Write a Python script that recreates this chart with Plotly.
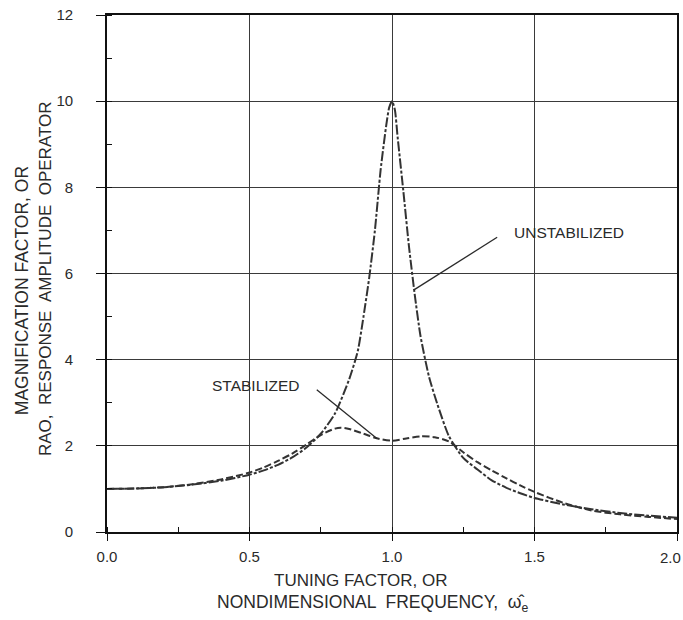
import plotly.graph_objects as go

# Tuning factor (x) and magnification factor readings
x_unstab = [0.0, 0.1, 0.2, 0.3, 0.4, 0.5, 0.55, 0.6, 0.65, 0.7, 0.75, 0.8, 0.85, 0.88, 0.9,
            0.92, 0.94, 0.96, 0.98, 0.99, 1.0, 1.01, 1.02, 1.04, 1.06, 1.08, 1.1, 1.13, 1.16,
            1.2, 1.25, 1.3, 1.35, 1.4, 1.45, 1.5, 1.6, 1.7, 1.8, 1.9, 2.0]
y_unstab = [1.0, 1.01, 1.04, 1.1, 1.19, 1.33, 1.43, 1.56, 1.73, 1.96, 2.28, 2.75, 3.55, 4.2, 5.0,
            5.9, 7.0, 8.4, 9.45, 9.85, 10.0, 9.8, 9.15, 7.9, 6.6, 5.5, 4.55, 3.6, 2.95,
            2.22, 1.72, 1.45, 1.2, 1.03, 0.9, 0.79, 0.64, 0.53, 0.44, 0.38, 0.33]

x_stab = [0.0, 0.1, 0.2, 0.3, 0.4, 0.5, 0.55, 0.6, 0.65, 0.7, 0.75, 0.8, 0.82, 0.85, 0.9,
          0.95, 1.0, 1.05, 1.1, 1.15, 1.2, 1.25, 1.3, 1.35, 1.4, 1.45, 1.5, 1.6, 1.7, 1.8,
          1.9, 2.0]
y_stab = [1.0, 1.01, 1.04, 1.11, 1.22, 1.38, 1.5, 1.65, 1.82, 2.03, 2.25, 2.4, 2.42, 2.39, 2.28,
          2.17, 2.12, 2.17, 2.22, 2.2, 2.1, 1.85, 1.62, 1.43, 1.25, 1.08, 0.93, 0.68, 0.5, 0.41,
          0.35, 0.3]

x_ticks = [0.0, 0.5, 1.0, 1.5, 2.0]
x_ticklabels = ["0.0", "0.5", "1.0", "1.5", ""]   # last label drawn as annotation to avoid clipping
last_x_label = "2.0"
y_ticks = [0, 2, 4, 6, 8, 10, 12]

INK = "#2a2a2a"
FONT = "Liberation Sans, Arial, sans-serif"

fig = go.Figure()
fig.add_trace(go.Scatter(x=x_unstab, y=y_unstab, mode="lines", name="UNSTABILIZED",
                         line=dict(color="#333333", width=2, dash="10px,2px,3px,2px", shape="spline",
                                   smoothing=0.6)))
fig.add_trace(go.Scatter(x=x_stab, y=y_stab, mode="lines", name="STABILIZED",
                         line=dict(color="#333333", width=2, dash="7px,3px", shape="spline",
                                   smoothing=0.8)))

# Leader lines for labels
fig.add_shape(type="line", x0=1.369, y0=6.84, x1=1.077, y1=5.62, xref="x", yref="y",
              line=dict(color=INK, width=1.3))
fig.add_shape(type="line", x0=0.736, y0=3.30, x1=0.947, y1=2.17, xref="x", yref="y",
              line=dict(color=INK, width=1.3))

fig.add_annotation(x=1.62, y=6.96, text="UNSTABILIZED", showarrow=False, xref="x", yref="y",
                   font=dict(family=FONT, size=15.5, color=INK))
fig.add_annotation(x=0.523, y=3.41, text="STABILIZED", showarrow=False, xref="x", yref="y",
                   font=dict(family=FONT, size=15.5, color=INK))

# Last x tick label
fig.add_annotation(xref="paper", yref="paper", x=1, y=0, xshift=6, yshift=-25,
                   text=last_x_label, showarrow=False, xanchor="right", yanchor="middle",
                   font=dict(family=FONT, size=15, color=INK))

# Axis titles
fig.add_annotation(xref="paper", yref="paper", x=-0.149, y=0.466, textangle=-90,
                   text="MAGNIFICATION FACTOR, OR",
                   showarrow=False, xanchor="center", yanchor="middle",
                   font=dict(family=FONT, size=17.5, color=INK))
fig.add_annotation(xref="paper", yref="paper", x=-0.109, y=0.491, textangle=-90,
                   text="RAO,  RESPONSE  AMPLITUDE  OPERATOR",
                   showarrow=False, xanchor="center", yanchor="middle",
                   font=dict(family=FONT, size=17, color=INK))
fig.add_annotation(xref="paper", yref="paper", x=0.444, y=0, yshift=-48,
                   text="TUNING FACTOR, OR", showarrow=False, xanchor="center", yanchor="middle",
                   font=dict(family=FONT, size=17, color=INK))
fig.add_annotation(xref="paper", yref="paper", x=0.465, y=0, yshift=-71,
                   text="NONDIMENSIONAL  FREQUENCY,  ω\u0302<sub>e</sub>", showarrow=False,
                   xanchor="center", yanchor="middle",
                   font=dict(family=FONT, size=17.5, color=INK))

fig.update_xaxes(range=[0, 2.0], tickvals=x_ticks, ticktext=x_ticklabels,
                 showgrid=True, gridcolor="#3a3a3a", gridwidth=1.2,
                 showline=True, linecolor="#111111", linewidth=1.6, mirror=True,
                 ticks="outside", ticklen=7, tickcolor="#111111", tickwidth=1.3,
                 ticklabelstandoff=3, zeroline=False,
                 automargin=False,
                 minor=dict(dtick=0.25, tick0=0, ticks="inside", ticklen=5, tickcolor="#111111",
                            showgrid=False),
                 tickfont=dict(family=FONT, size=15, color=INK))
fig.update_yaxes(range=[0, 12], tickvals=y_ticks,
                 showgrid=True, gridcolor="#3a3a3a", gridwidth=1.2,
                 showline=True, linecolor="#111111", linewidth=1.6, mirror=True,
                 ticks="outside", ticklen=9, tickcolor="#111111", tickwidth=1.3,
                 ticklabelstandoff=20, ticklabeloverflow="allow", zeroline=False,
                 automargin=False,
                 minor=dict(dtick=1, tick0=0, ticks="inside", ticklen=5, tickcolor="#111111",
                            showgrid=False),
                 tickfont=dict(family=FONT, size=15, color=INK))

fig.update_layout(width=683, height=620, margin=dict(l=107, r=6, t=15, b=88),
                  plot_bgcolor="white", paper_bgcolor="white", showlegend=False)

fig.write_html("out.html")
